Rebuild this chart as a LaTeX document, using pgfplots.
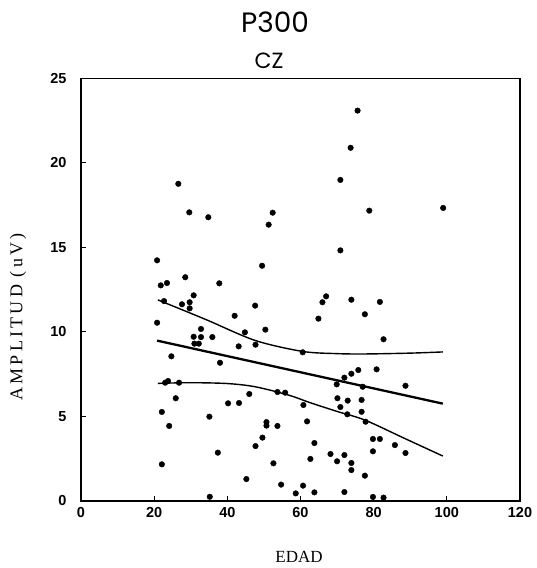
\documentclass[border=0pt]{standalone}
\usepackage{fontspec}
\usepackage{pgfplots}
\pgfplotsset{compat=1.18}
\setmainfont{Liberation Serif}
\newfontfamily\ticksf{Liberation Sans}
\newfontfamily\titlef{Poppins}
\newfontfamily\ylabf[LetterSpace=18]{Liberation Serif}

\pgfplotstableread{
x y
26.6 18.77
29.6 17.08
34.8 16.79
20.8 14.24
21.8 12.76
23.5 12.90
28.5 13.24
37.8 12.88
75.6 23.1
73.7 20.9
70.9 19.0
52.4 17.06
51.3 16.35
70.9 14.83
49.5 13.92
78.8 17.18
99.0 17.34
30.8 12.17
27.6 11.64
29.7 11.76
29.7 11.40
22.7 11.83
47.6 11.56
20.8 10.55
42.0 10.96
32.8 10.18
44.8 9.98
30.8 9.72
32.8 9.70
35.9 9.70
31.0 9.31
32.2 9.31
43.1 9.15
47.7 9.25
24.7 8.56
38.0 8.18
23.0 7.00
23.8 7.10
26.8 7.00
46.0 6.33
25.9 6.08
40.2 5.78
43.2 5.80
22.1 5.27
35.1 4.99
24.1 4.44
47.7 3.25
37.4 2.86
22.1 2.17
45.2 1.30
35.2 0.25
67.0 12.11
66.0 11.76
73.9 11.91
64.9 10.79
77.6 11.05
50.4 10.14
60.6 8.80
75.8 7.75
73.9 7.53
72.0 7.30
69.9 6.90
53.7 6.45
55.8 6.41
70.1 6.08
72.9 5.94
76.7 5.98
60.8 5.68
70.9 5.56
76.7 5.28
72.8 5.13
50.7 4.67
50.7 4.46
53.7 4.44
61.8 4.71
49.6 3.75
63.8 3.43
68.2 2.78
72.0 2.72
62.7 2.49
70.0 2.35
73.9 2.25
73.9 1.83
52.6 2.23
77.6 1.50
54.7 0.97
60.7 0.91
58.7 0.45
63.8 0.51
72.0 0.53
81.7 11.78
82.7 9.57
80.8 7.79
88.7 6.82
77.0 6.76
77.8 4.69
79.8 3.67
81.7 3.67
85.8 3.31
79.8 2.94
88.7 2.84
79.8 0.24
82.7 0.20
}\pts

\begin{document}
\begin{tikzpicture}[x=1pt,y=1pt]
\useasboundingbox (-81,-67) rectangle (455,501);
\begin{axis}[at={(0,0)}, anchor=south west, scale only axis,
  width=439pt, height=422.5pt,
  xmin=0, xmax=120, ymin=0, ymax=25,
  xtick={0,20,...,120}, ytick={0,5,...,25},
  tick align=inside, xtick pos=left, ytick pos=left,
  major tick length=5pt,
  axis line style={line width=1.3pt},
  tick style={line width=1pt, black},
  /pgf/number format/assume math mode=true,
  ticklabel style={font=\ticksf\bfseries\fontsize{14.5}{14.5}\selectfont},
  xticklabel style={yshift=-3pt},
  yticklabel style={xshift=-11pt},
  clip=false]
\addplot[only marks, mark=*, mark size=2.8pt, black] table[x=x,y=y] {\pts};
\addplot[black, line width=2.3pt] coordinates {(20.8,9.49) (98.9,5.76)};
\addplot[black, line width=1.4pt, smooth] coordinates {(21,11.9) (34,10.75) (47.6,9.5) (60.6,8.85) (70,8.72) (77.6,8.70) (90,8.75) (98.9,8.82)};
\addplot[black, line width=1.4pt, smooth] coordinates {(21,6.96) (30,7.0) (40,6.95) (47.6,6.76) (56.7,6.27) (62.6,5.82) (70,5.3) (77.6,4.79) (88,3.75) (98.9,2.66)};
\end{axis}
\node[font=\titlef\fontsize{28}{28}\selectfont] at (194,479) {P300};
\node[font=\titlef\fontsize{22}{22}\selectfont] at (188,440) {CZ};
\node[font=\fontsize{17}{17}\selectfont] at (218,-56) {EDAD};
\node[font=\ylabf\fontsize{18}{18}\selectfont, rotate=90] at (-63,184) {AMPLITUD (uV)};
\end{tikzpicture}
\end{document}
